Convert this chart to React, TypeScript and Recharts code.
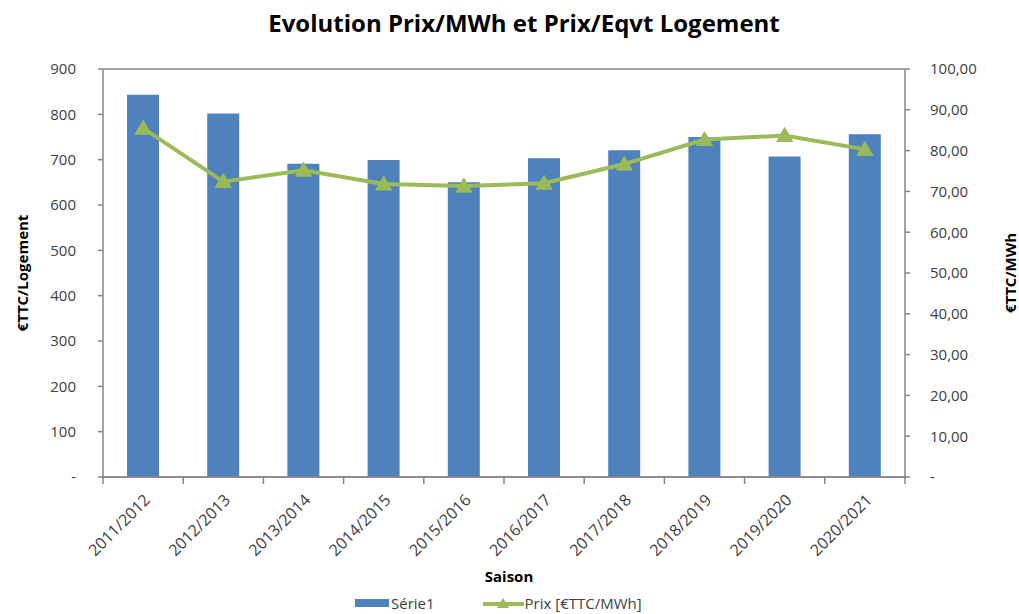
import { ComposedChart, Bar, Line, XAxis, YAxis, CartesianGrid } from "recharts";

const seasons = [
  "2011/2012", "2012/2013", "2013/2014", "2014/2015", "2015/2016",
  "2016/2017", "2017/2018", "2018/2019", "2019/2020", "2020/2021",
];
const logementValues = [843, 802, 691, 699, 650, 703, 721, 750, 707, 756];
const mwhValues = [85.5, 72.4, 75.2, 71.8, 71.3, 72.0, 76.7, 82.7, 83.7, 80.3];
const leftTicks = [0, 100, 200, 300, 400, 500, 600, 700, 800, 900];
const rightTicks = [0, 10, 20, 30, 40, 50, 60, 70, 80, 90, 100];

const data = seasons.map((s, i) => ({ saison: s, serie1: logementValues[i], prix: mwhValues[i] }));

const BLUE = "#4f81bd";
const GREEN = "#9bbb59";
const AXIS = "#868686";
const TEXT = "#404040";
const FONT = "'Open Sans', sans-serif";

const W = 1019;
const H = 614;
const LEFT_W = 103;
const RIGHT_W = 114;
const BAND = (W - LEFT_W - RIGHT_W) / seasons.length;

function Triangle(props: any) {
  const { cx, cy } = props;
  if (cx == null || cy == null) return null;
  return <polygon points={`${cx},${cy - 8} ${cx - 8},${cy + 6} ${cx + 8},${cy + 6}`} fill={GREEN} stroke={GREEN} />;
}

function SeasonTick(props: any) {
  const { x, y, payload, index } = props;
  const tx = x + 8;
  const ty = y + 16;
  return (
    <g>
      <line x1={x - BAND / 2} y1={y - 8} x2={x - BAND / 2} y2={y - 1} stroke={AXIS} strokeWidth={1.5} />
      {index === seasons.length - 1 && (
        <line x1={x + BAND / 2} y1={y - 8} x2={x + BAND / 2} y2={y - 1} stroke={AXIS} strokeWidth={1.5} />
      )}
      <text
        x={tx}
        y={ty}
        transform={`rotate(-45, ${tx}, ${ty})`}
        textAnchor="end"
        fontSize={16}
        fill={TEXT}
        fontFamily={FONT}
      >
        {payload.value}
      </text>
    </g>
  );
}

const axisTitle: any = {
  position: "absolute",
  top: 273,
  transform: "translate(-50%, -50%) rotate(180deg)",
  writingMode: "vertical-rl",
  fontSize: 15,
  fontWeight: 700,
  color: "#000",
  whiteSpace: "nowrap",
};

export default function App() {
  return (
    <div style={{ position: "absolute", left: 0, top: 0, width: W, height: H, background: "#fff", fontFamily: FONT, overflow: "hidden" }}>
      <div style={{ position: "absolute", top: 6, left: 0, width: 1048, textAlign: "center", fontSize: 24, fontWeight: 700, color: "#000" }}>
        Evolution Prix/MWh et Prix/Eqvt Logement
      </div>

      <ComposedChart width={W} height={H} data={data} margin={{ top: 69, right: 0, bottom: 107, left: 0 }} barSize={32}>
        <CartesianGrid vertical={false} stroke={AXIS} strokeWidth={1.5} />
        <XAxis
          dataKey="saison"
          height={30}
          axisLine={{ stroke: AXIS, strokeWidth: 1.5 }}
          tickLine={false}
          tick={<SeasonTick />}
          interval={0}
        />
        <YAxis
          yAxisId="left"
          width={LEFT_W}
          domain={[0, 900]}
          ticks={leftTicks}
          tickFormatter={(v: number) => (v === 0 ? "-" : String(v))}
          axisLine={{ stroke: AXIS, strokeWidth: 1.5 }}
          tickLine={{ stroke: AXIS, strokeWidth: 1.5 }}
          tickSize={5}
          tickMargin={22}
          tick={{ fontSize: 15, fill: TEXT, fontFamily: FONT }}
        />
        <YAxis
          yAxisId="right"
          orientation="right"
          width={RIGHT_W}
          domain={[0, 100]}
          ticks={rightTicks}
          tickFormatter={(v: number) => (v === 0 ? "-" : v.toFixed(2).replace(".", ","))}
          axisLine={{ stroke: AXIS, strokeWidth: 1.5 }}
          tickLine={{ stroke: AXIS, strokeWidth: 1.5 }}
          tickSize={5}
          tickMargin={20}
          tick={{ fontSize: 15, fill: TEXT, fontFamily: FONT, textAnchor: "start" }}
        />
        <Bar yAxisId="left" dataKey="serie1" fill={BLUE} isAnimationActive={false} />
        <Line
          yAxisId="right"
          dataKey="prix"
          stroke={GREEN}
          strokeWidth={4}
          dot={<Triangle />}
          activeDot={false}
          isAnimationActive={false}
        />
      </ComposedChart>

      <div style={{ ...axisTitle, left: 22 }}>€TTC/Logement</div>
      <div style={{ ...axisTitle, left: 1010 }}>€TTC/MWh</div>
      <div style={{ position: "absolute", left: 509, top: 576, transform: "translate(-50%, -50%)", fontSize: 15, fontWeight: 700, color: "#000" }}>
        Saison
      </div>

      <div style={{ position: "absolute", left: 355, top: 593, height: 20, lineHeight: "20px", display: "flex", alignItems: "center", fontSize: 15, color: TEXT, whiteSpace: "nowrap" }}>
        <span style={{ display: "inline-block", width: 34, height: 8, background: BLUE, marginRight: 2 }} />
        <span style={{ marginRight: 48 }}>Série1</span>
        <svg width={41} height={16} style={{ marginRight: 1 }}>
          <line x1={0} y1={9} x2={41} y2={9} stroke={GREEN} strokeWidth={4} />
          <polygon points="20,3 14,13 26,13" fill={GREEN} />
        </svg>
        <span>Prix [€TTC/MWh]</span>
      </div>
    </div>
  );
}
